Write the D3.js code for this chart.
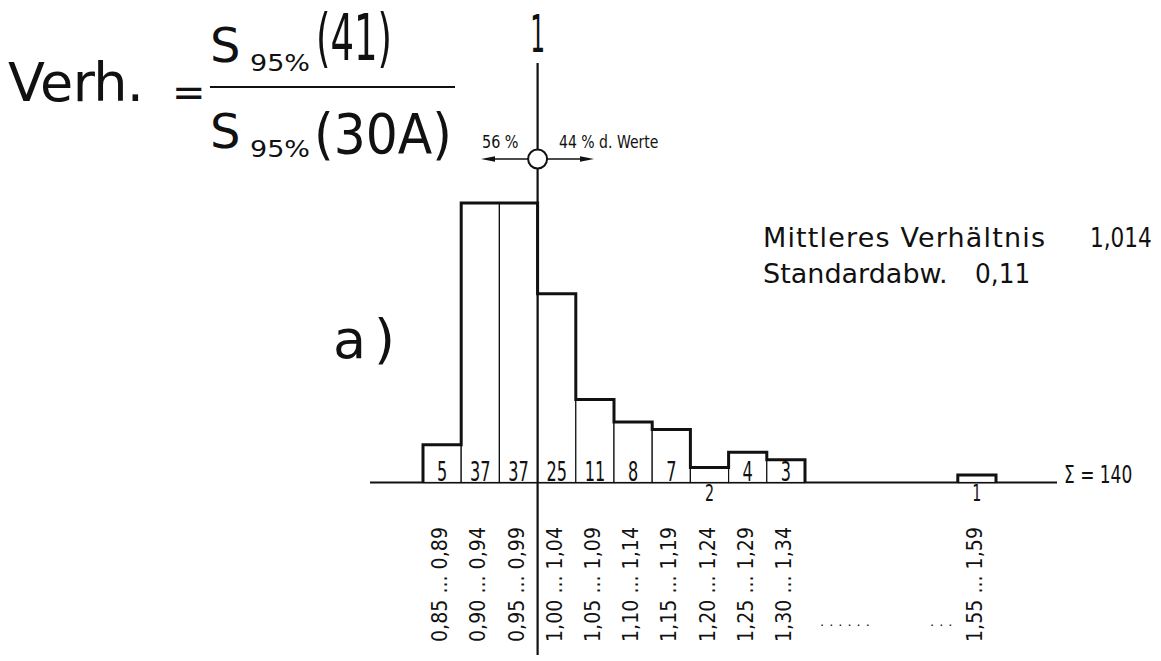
<!DOCTYPE html>
<html>
<head>
<meta charset="utf-8">
<script src="https://cdn.jsdelivr.net/npm/d3@7"></script>
<style>
  body { margin: 0; background: #fff; }
  svg { display: block; }
  text { fill: #111; }
  .din { font-family: "DejaVu Sans", sans-serif; }
</style>
</head>
<body>
<div id="chart"></div>
<script>
// histogram of the ratio s95%(41) / s95%(30A), class width 0,05
const binStarts = [0.85, 0.90, 0.95, 1.00, 1.05, 1.10, 1.15, 1.20, 1.25, 1.30, 1.35, 1.40, 1.45, 1.50, 1.55];
const counts = [5, 37, 37, 25, 11, 8, 7, 2, 4, 3, 0, 0, 0, 0, 1];
const tickBins = [0.85, 0.90, 0.95, 1.00, 1.05, 1.10, 1.15, 1.20, 1.25, 1.30, 1.55];
const tickLow = ["0,85", "0,90", "0,95", "1,00", "1,05", "1,10", "1,15", "1,20", "1,25", "1,30", "1,55"];
const tickHigh = ["0,89", "0,94", "0,99", "1,04", "1,09", "1,14", "1,19", "1,24", "1,29", "1,34", "1,59"];
const total = 140;
const shareLeft = "56 %", shareRight = "44 % d. Werte";
const meanRatio = "1,014", stdDev = "0,11";

const binWidth = 0.05;
const width = 1161, height = 661;

const svg = d3.select("#chart").append("svg")
    .attr("width", width)
    .attr("height", height)
    .attr("class", "din");

const x = d3.scaleLinear().domain([0.85, 1.60]).range([423, 996]);
const y = d3.scaleLinear().domain([0, 37]).range([482.5, 203]);

const bins = binStarts.map((b, i) => ({ start: b, count: counts[i] }));
const xRef = x(1.00);
const mid = b => (x(b) + x(b + binWidth)) / 2;

// narrow stencil-like lettering: squeeze the glyphs horizontally
function narrowText(parent, tx, ty, size, sx, str, anchor) {
    return parent.append("text")
        .attr("transform", `translate(${tx},${ty}) scale(${sx},1)`)
        .attr("font-size", size)
        .attr("text-anchor", anchor || "start")
        .text(str);
}

/* baseline */
svg.append("line")
    .attr("x1", 370).attr("x2", 1057)
    .attr("y1", y(0)).attr("y2", y(0))
    .attr("stroke", "#111").attr("stroke-width", 1.8);

/* thin bar cells */
svg.append("g").selectAll("rect")
    .data(bins.filter(d => d.count > 0))
    .enter().append("rect")
    .attr("x", d => x(d.start))
    .attr("y", d => y(d.count))
    .attr("width", d => x(d.start + binWidth) - x(d.start))
    .attr("height", d => y(0) - y(d.count))
    .attr("fill", "#fff")
    .attr("stroke", "#111")
    .attr("stroke-width", 1.2);

/* thick stepped outline, one per run of non-empty classes */
let runs = [], run = [];
bins.forEach(d => {
    if (d.count > 0) run.push(d);
    else if (run.length) { runs.push(run); run = []; }
});
if (run.length) runs.push(run);

const line = d3.line();
runs.forEach(r => {
    let pts = [[x(r[0].start), y(0)]];
    r.forEach(d => {
        pts.push([x(d.start), y(d.count)]);
        pts.push([x(d.start + binWidth), y(d.count)]);
    });
    pts.push([x(r[r.length - 1].start + binWidth), y(0)]);
    svg.append("path")
        .attr("d", line(pts))
        .attr("fill", "none")
        .attr("stroke", "#111")
        .attr("stroke-width", 3)
        .attr("stroke-linejoin", "miter");
});

/* counts */
const countG = svg.append("g");
bins.filter(d => d.count > 0).forEach(d => {
    const below = d.count <= 2;
    narrowText(countG, mid(d.start), below ? y(0) + 18 : y(0) - 2, below ? 23 : 26, 0.62, d.count, "middle");
});

/* vertical reference line at ratio 1 */
svg.append("line")
    .attr("x1", xRef).attr("x2", xRef)
    .attr("y1", 63).attr("y2", 655)
    .attr("stroke", "#111").attr("stroke-width", 2.2);

narrowText(svg, xRef, 52, 52, 0.45, "1", "middle");

/* circle and arrows */
const cy = 159;
function arrow(x1, x2) {
    const dir = Math.sign(x2 - x1);
    svg.append("line")
        .attr("x1", x1).attr("x2", x2 - dir * 10)
        .attr("y1", cy).attr("y2", cy)
        .attr("stroke", "#111").attr("stroke-width", 1.3);
    svg.append("path")
        .attr("d", `M${x2},${cy}L${x2 - dir * 14},${cy - 2.8}L${x2 - dir * 14},${cy + 2.8}Z`)
        .attr("fill", "#111");
}
arrow(xRef - 9, 481);
arrow(xRef + 9, 594);

svg.append("circle")
    .attr("cx", xRef).attr("cy", cy).attr("r", 9.5)
    .attr("fill", "#fff")
    .attr("stroke", "#111").attr("stroke-width", 2);

narrowText(svg, 482, 148, 18, 0.8, shareLeft);
narrowText(svg, 559, 148, 18, 0.78, shareRight);

/* class labels, rotated */
svg.append("g").selectAll("text")
    .data(tickBins)
    .enter().append("text")
    .attr("transform", d => `translate(${mid(d) + 5}, 642) rotate(-90)`)
    .attr("font-size", 21)
    .attr("textLength", 115)
    .attr("lengthAdjust", "spacingAndGlyphs")
    .text((d, i) => tickLow[i] + " ... " + tickHigh[i]);

svg.append("text")
    .attr("x", 820).attr("y", 626)
    .attr("font-size", 13)
    .attr("letter-spacing", 5)
    .text("......");

svg.append("text")
    .attr("x", 930).attr("y", 626)
    .attr("font-size", 13)
    .attr("letter-spacing", 5)
    .text("...");

/* sum */
narrowText(svg, 1064, 483, 25, 0.68, "\u03A3 = " + total);

/* statistics */
svg.append("text")
    .attr("x", 763).attr("y", 247)
    .attr("font-size", 27)
    .attr("textLength", 282)
    .attr("lengthAdjust", "spacing")
    .text("Mittleres Verhältnis");
narrowText(svg, 1090, 247, 27, 0.8, meanRatio);
svg.append("text")
    .attr("x", 763).attr("y", 283)
    .attr("font-size", 27)
    .text("Standardabw.");
narrowText(svg, 975, 283, 27, 0.92, stdDev);

/* panel letter */
svg.append("text")
    .attr("x", 333).attr("y", 358)
    .attr("font-size", 54)
    .attr("letter-spacing", 8)
    .text("a)");

/* formula */
const f = svg.append("g");
f.append("text").attr("x", 8).attr("y", 101).attr("font-size", 54)
    .attr("textLength", 136).attr("lengthAdjust", "spacing").text("Verh.");
f.append("text").attr("x", 172).attr("y", 106).attr("font-size", 40).text("=");
f.append("line").attr("x1", 210).attr("x2", 455).attr("y1", 87).attr("y2", 87)
    .attr("stroke", "#111").attr("stroke-width", 2);

f.append("text").attr("x", 210).attr("y", 62).attr("font-size", 48).text("S");
f.append("text").attr("x", 250).attr("y", 71).attr("font-size", 23)
    .attr("textLength", 60).attr("lengthAdjust", "spacingAndGlyphs").text("95%");
f.append("text").attr("x", 316).attr("y", 60).attr("font-size", 64)
    .attr("textLength", 76).attr("lengthAdjust", "spacingAndGlyphs").text("(41)");

f.append("text").attr("x", 210).attr("y", 148).attr("font-size", 48).text("S");
f.append("text").attr("x", 250).attr("y", 157).attr("font-size", 23)
    .attr("textLength", 60).attr("lengthAdjust", "spacingAndGlyphs").text("95%");
f.append("text").attr("x", 314).attr("y", 153).attr("font-size", 56)
    .attr("textLength", 138).attr("lengthAdjust", "spacingAndGlyphs").text("(30A)");
</script>
</body>
</html>
